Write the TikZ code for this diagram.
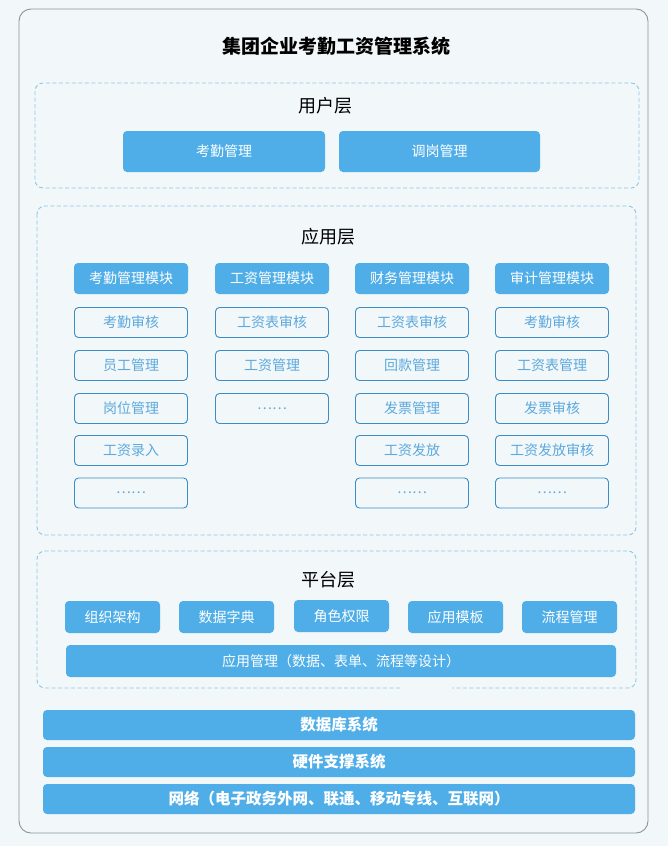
\documentclass[tikz,border=0pt]{standalone}
\usepackage{fontspec}
\setmainfont{Noto Sans CJK SC}
\definecolor{cbg}{HTML}{F2F7F9}
\definecolor{cblue}{HTML}{4FAEE8}
\definecolor{cedge}{HTML}{3A8EC6}
\definecolor{csubtxt}{HTML}{5CA9DD}
\definecolor{cdash}{HTML}{8FC5E7}
\definecolor{couter}{HTML}{8A9699}
\tikzset{
  blk/.style={fill=cblue, rounded corners=4pt, text=white, font=\fontsize{14}{16}\selectfont,
    inner sep=0pt, outer sep=0pt, minimum height=31pt},
  subbox/.style={draw=cedge, line width=0.9pt, fill=cbg, rounded corners=4pt, text=csubtxt,
    font=\fontsize{14}{16}\selectfont, inner sep=0pt, outer sep=0pt, minimum width=113pt, minimum height=30pt},
  hdr/.style={blk, minimum width=114pt},
  base/.style={blk, font=\bfseries\fontsize{15.5}{18}\selectfont, minimum width=592pt, minimum height=30pt},
  layerbox/.style={draw=cdash, line width=0.9pt, dash pattern=on 4pt off 2.5pt, rounded corners=8pt},
  layerlbl/.style={font=\fontsize{18}{20}\selectfont, text=black, inner sep=0pt},
}
\begin{document}
\begin{tikzpicture}[x=1pt,y=-1pt]
\useasboundingbox[fill=cbg] (0,0) rectangle (668,846);
\draw[couter, line width=0.9pt, rounded corners=12pt, fill=cbg] (19,9) rectangle (648,833);
\node[font=\bfseries\fontsize{19}{22}\selectfont, inner sep=0pt] (title) at (336,46) {集团企业考勤工资管理系统};

% user layer
\draw[layerbox] (35,83) rectangle (639,188);
\node[layerlbl] (ulbl) at (325,106) {用户层};
\node[blk, minimum width=202pt, minimum height=41pt] (u1) at (224,151.5) {考勤管理};
\node[blk, minimum width=201pt, minimum height=41pt] (u2) at (439.5,151.5) {调岗管理};

% application layer
\draw[layerbox] (37,206) rectangle (636,535);
\node[layerlbl] (albl) at (328,237) {应用层};
\node[hdr] (h1) at (131,278.5) {考勤管理模块};
\node[hdr] (h2) at (272,278.5) {工资管理模块};
\node[hdr] (h3) at (412,278.5) {财务管理模块};
\node[hdr] (h4) at (552,278.5) {审计管理模块};

\node[subbox] (a11) at (131,322.5) {考勤审核};
\node[subbox] (a12) at (131,365.5) {员工管理};
\node[subbox] (a13) at (131,408.5) {岗位管理};
\node[subbox] (a14) at (131,450.5) {工资录入};
\node[subbox] (a15) at (131,493) {……};

\node[subbox] (a21) at (272,322.5) {工资表审核};
\node[subbox] (a22) at (272,365.5) {工资管理};
\node[subbox] (a23) at (272,408.5) {……};

\node[subbox] (a31) at (412,322.5) {工资表审核};
\node[subbox] (a32) at (412,365.5) {回款管理};
\node[subbox] (a33) at (412,408.5) {发票管理};
\node[subbox] (a34) at (412,450.5) {工资发放};
\node[subbox] (a35) at (412,493) {……};

\node[subbox] (a41) at (552,322.5) {考勤审核};
\node[subbox] (a42) at (552,365.5) {工资表管理};
\node[subbox] (a43) at (552,408.5) {发票审核};
\node[subbox] (a44) at (552,450.5) {工资发放审核};
\node[subbox] (a45) at (552,493) {……};

% platform layer
\draw[layerbox] (400,688) -- (37,688) -- (37,551) -- (636,551) -- (636,688) -- (452,688);
\node[layerlbl] (plbl) at (328,580) {平台层};
\node[blk, minimum width=95pt, minimum height=32pt] (p1) at (112.5,617) {组织架构};
\node[blk, minimum width=95pt, minimum height=32pt] (p2) at (226.5,617) {数据字典};
\node[blk, minimum width=95pt, minimum height=32pt] (p3) at (341.5,616) {角色权限};
\node[blk, minimum width=95pt, minimum height=32pt] (p4) at (455.5,617) {应用模板};
\node[blk, minimum width=95pt, minimum height=32pt] (p5) at (569.5,617) {流程管理};
\node[blk, minimum width=550pt, minimum height=32pt] (pw) at (341,661) {应用管理（数据、表单、流程等设计）};

% base systems
\node[base] (b1) at (339,725) {数据库系统};
\node[base] (b2) at (339,762) {硬件支撑系统};
\node[base] (b3) at (339,799) {网络（电子政务外网、联通、移动专线、互联网）};
\end{tikzpicture}
\end{document}
